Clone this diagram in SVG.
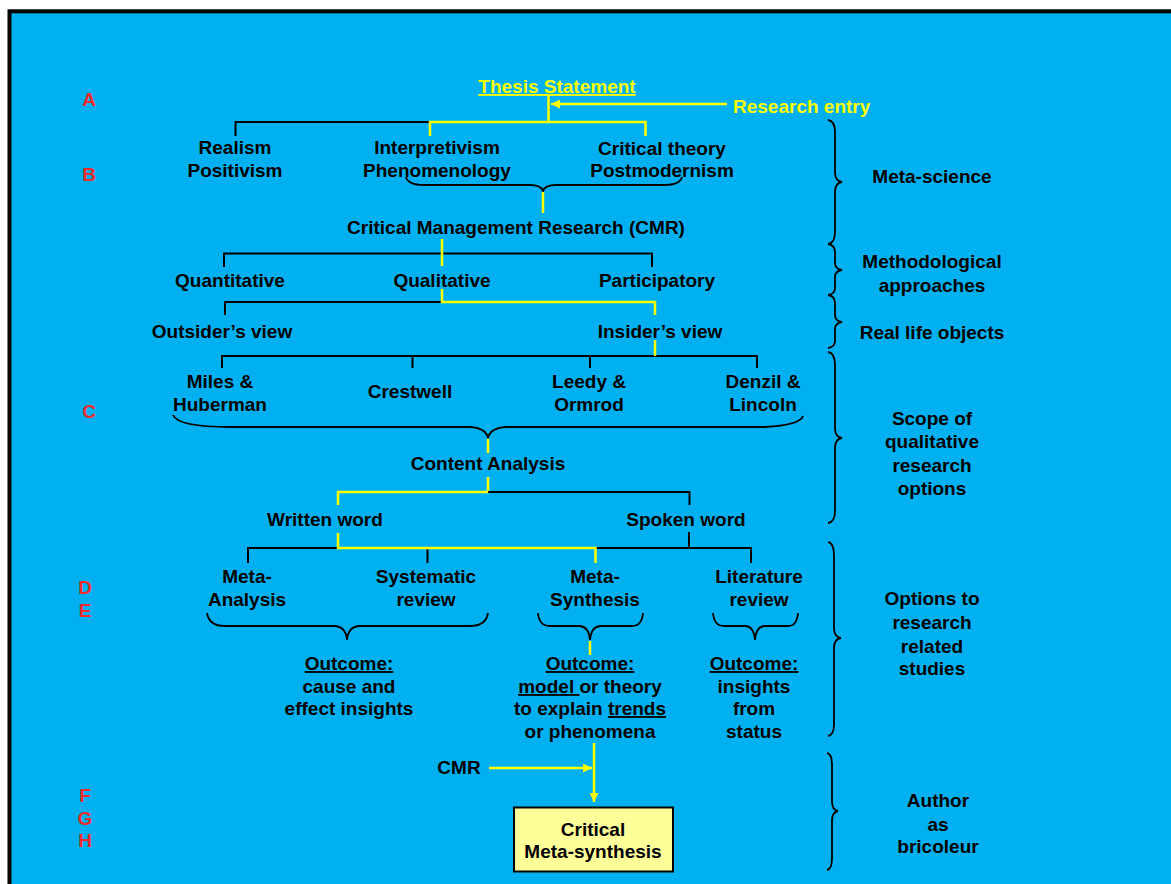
<svg xmlns="http://www.w3.org/2000/svg" width="1171" height="884" viewBox="0 0 1171 884">
  <defs>
    <style>
      text { font-family: "Liberation Sans", Arial, sans-serif; font-weight: bold; font-size: 19px; fill: #000; }
      .c { text-anchor: middle; }
      .y { fill: #FFFF00; }
      .r { fill: #EE2A2A; text-anchor: middle; }
      .u { text-decoration: underline; }
      .k { stroke: #000; stroke-width: 2; fill: none; }
      .yl { stroke: #FFFF00; stroke-width: 2.5; fill: none; }
      .br { stroke: #000; stroke-width: 1.8; fill: none; }
    </style>
    <marker id="ah" viewBox="0 0 10 10" refX="10" refY="5" markerWidth="9" markerHeight="9" markerUnits="userSpaceOnUse" orient="auto">
      <path d="M0,0 L10,5 L0,10 z" fill="#FFFF00"/>
    </marker>
  </defs>

  <!-- background panel with frame -->
  <rect x="9.5" y="11.3" width="1200" height="900" fill="#00B0F0" stroke="#000" stroke-width="4"/>

  <!-- row letters -->
  <g id="row-letters">
    <text class="r" x="89" y="106">A</text>
    <text class="r" x="89" y="181">B</text>
    <text class="r" x="89" y="418">C</text>
    <text class="r" x="85" y="594">D</text>
    <text class="r" x="85" y="617">E</text>
    <text class="r" x="85" y="802">F</text>
    <text class="r" x="85" y="825">G</text>
    <text class="r" x="85" y="847">H</text>
  </g>

  <!-- connectors -->
  <g id="connectors">
    <!-- thesis to paradigms -->
    <path class="yl" d="M548.5,96 V122"/>
    <path class="k" d="M235.5,136 V122 H430"/>
    <path class="yl" d="M430,136 V122 H645.5 V136"/>
    <path class="yl" d="M727,104 H551" marker-end="url(#ah)"/>
    <!-- brace under interpretivism / critical theory -->
    <path class="br" d="M406,177 Q408,185 424,185 L530,185 Q541,185 543,191 Q545,185 556,185 L664,185 Q680,185 682,177"/>
    <path class="yl" d="M543,192 V213"/>
    <!-- CMR to approaches -->
    <path class="k" d="M224,267 V253.5 H652 V267"/>
    <path class="yl" d="M442,239 V266"/>
    <!-- qualitative to views -->
    <path class="k" d="M225,315 V302 H441"/>
    <path class="yl" d="M442,289 V302 H655 V315"/>
    <!-- insider view to authors -->
    <path class="k" d="M222,368 V356 H757 V368"/>
    <path class="k" d="M412.5,356 V368"/>
    <path class="k" d="M590,356 V368"/>
    <path class="yl" d="M655,340 V356"/>
    <!-- brace under authors -->
    <path class="br" d="M173,415 Q178,427 230,427 L470,427 Q486,428 488,438 Q490,428 506,427 L765,427 Q800,425 803,416"/>
    <path class="yl" d="M488,439 V453"/>
    <!-- content analysis to word types -->
    <path class="yl" d="M488,477 V492 H338 V505"/>
    <path class="k" d="M488,492 H689.5 V505"/>
    <!-- word types to study options -->
    <path class="k" d="M689,532 V548"/>
    <path class="k" d="M248,563 V548 H338"/>
    <path class="k" d="M595,548 H751 V563"/>
    <path class="k" d="M427.5,548 V563"/>
    <path class="yl" d="M338,533 V548 H595.5 V563"/>
    <!-- braces under study options -->
    <path class="br" d="M207,613 Q209,626 225,626 L335,626 Q346,627 347,640 Q348,627 359,626 L470,626 Q486,626 488,613"/>
    <path class="br" d="M538,613 Q539,626 550,626 L580,626 Q589,627 590,640 Q591,627 600,626 L632,626 Q642,626 643,613"/>
    <path class="br" d="M713,613 Q714,626 724,626 L746,626 Q754,627 755,640 Q756,627 764,626 L788,626 Q797,626 798,613"/>
    <path class="yl" d="M590,641 V655"/>
    <!-- into critical meta-synthesis -->
    <path class="yl" d="M594,743 V802" marker-end="url(#ah)"/>
    <path class="yl" d="M489,768 H592" marker-end="url(#ah)"/>
    <!-- right-hand braces -->
    <path class="br" d="M828,120 Q835,121 835,132 L835,172 Q835,181 842,182 Q835,183 835,192 L835,232 Q835,243 828,244"/>
    <path class="br" d="M828,244 Q835,245 835,252 L835,263 Q835,269 842,270 Q835,271 835,277 L835,288 Q835,294 828,295"/>
    <path class="br" d="M828,295 Q835,296 835,303 L835,315 Q835,321 842,322 Q835,323 835,329 L835,341 Q835,347 828,348"/>
    <path class="br" d="M828,352 Q835,353 835,365 L835,428 Q835,437 842,438 Q835,439 835,448 L835,511 Q835,522 828,523"/>
    <path class="br" d="M828,542 Q834,543 834,555 L834,628 Q834,637 841,638 Q834,639 834,648 L834,724 Q834,735 828,736"/>
    <path class="br" d="M827,753 Q832,754 832,765 L832,801 Q832,810 838,811 Q832,812 832,821 L832,858 Q832,869 827,870"/>
  </g>

  <!-- nodes -->
  <g id="thesis"><text class="c y u" x="557" y="93">Thesis Statement</text></g>
  <g id="research-entry"><text class="y" x="733" y="113">Research entry</text></g>

  <g id="realism"><text class="c" x="235" y="154">Realism</text><text class="c" x="235" y="177">Positivism</text></g>
  <g id="interpretivism"><text class="c" x="437" y="154">Interpretivism</text><text class="c" x="437" y="177">Phenomenology</text></g>
  <g id="critical-theory"><text class="c" x="662" y="155">Critical theory</text><text class="c" x="662" y="177">Postmodernism</text></g>

  <g id="cmr-research"><text class="c" x="516" y="234">Critical Management Research (CMR)</text></g>

  <g id="quantitative"><text class="c" x="230" y="287">Quantitative</text></g>
  <g id="qualitative"><text class="c" x="442" y="287">Qualitative</text></g>
  <g id="participatory"><text class="c" x="657" y="287">Participatory</text></g>

  <g id="outsider"><text class="c" x="222" y="338">Outsider’s view</text></g>
  <g id="insider"><text class="c" x="660" y="338">Insider’s view</text></g>

  <g id="miles"><text class="c" x="220" y="388">Miles &amp;</text><text class="c" x="220" y="411">Huberman</text></g>
  <g id="crestwell"><text class="c" x="410" y="398">Crestwell</text></g>
  <g id="leedy"><text class="c" x="589" y="388">Leedy &amp;</text><text class="c" x="589" y="411">Ormrod</text></g>
  <g id="denzil"><text class="c" x="763" y="388">Denzil &amp;</text><text class="c" x="763" y="411">Lincoln</text></g>

  <g id="content-analysis"><text class="c" x="488" y="470">Content Analysis</text></g>

  <g id="written"><text class="c" x="325" y="526">Written word</text></g>
  <g id="spoken"><text class="c" x="686" y="526">Spoken word</text></g>

  <g id="meta-analysis"><text class="c" x="247" y="583">Meta-</text><text class="c" x="247" y="606">Analysis</text></g>
  <g id="systematic"><text class="c" x="426" y="583">Systematic</text><text class="c" x="426" y="606">review</text></g>
  <g id="meta-synthesis"><text class="c" x="595" y="583">Meta-</text><text class="c" x="595" y="606">Synthesis</text></g>
  <g id="literature"><text class="c" x="759" y="583">Literature</text><text class="c" x="759" y="606">review</text></g>

  <g id="outcome-1">
    <text class="c u" x="349" y="670">Outcome:</text>
    <text class="c" x="349" y="693">cause and</text>
    <text class="c" x="349" y="715">effect insights</text>
  </g>
  <g id="outcome-2">
    <text class="c u" x="590" y="670">Outcome:</text>
    <text class="c" x="590" y="693"><tspan class="u">model </tspan>or theory</text>
    <text class="c" x="590" y="715">to explain <tspan class="u">trends</tspan></text>
    <text class="c" x="590" y="738">or phenomena</text>
  </g>
  <g id="outcome-3">
    <text class="c u" x="754" y="670">Outcome:</text>
    <text class="c" x="754" y="693">insights</text>
    <text class="c" x="754" y="715">from</text>
    <text class="c" x="754" y="738">status</text>
  </g>

  <g id="cmr"><text class="c" x="459" y="774">CMR</text></g>

  <g id="critical-meta-synthesis">
    <rect x="514" y="807.5" width="159" height="64" fill="#FFFF99" stroke="#000" stroke-width="2"/>
    <text class="c" x="593" y="836">Critical</text>
    <text class="c" x="593" y="858">Meta-synthesis</text>
  </g>

  <!-- level labels on the right -->
  <g id="label-meta-science"><text class="c" x="932" y="183">Meta-science</text></g>
  <g id="label-methodological"><text class="c" x="932" y="268">Methodological</text><text class="c" x="932" y="292">approaches</text></g>
  <g id="label-real-life"><text class="c" x="932" y="339">Real life objects</text></g>
  <g id="label-scope">
    <text class="c" x="932" y="425">Scope of</text>
    <text class="c" x="932" y="448">qualitative</text>
    <text class="c" x="932" y="472">research</text>
    <text class="c" x="932" y="495">options</text>
  </g>
  <g id="label-options">
    <text class="c" x="932" y="605">Options to</text>
    <text class="c" x="932" y="629">research</text>
    <text class="c" x="932" y="653">related</text>
    <text class="c" x="932" y="675">studies</text>
  </g>
  <g id="label-author">
    <text class="c" x="938" y="807">Author</text>
    <text class="c" x="938" y="831">as</text>
    <text class="c" x="938" y="853">bricoleur</text>
  </g>
</svg>
